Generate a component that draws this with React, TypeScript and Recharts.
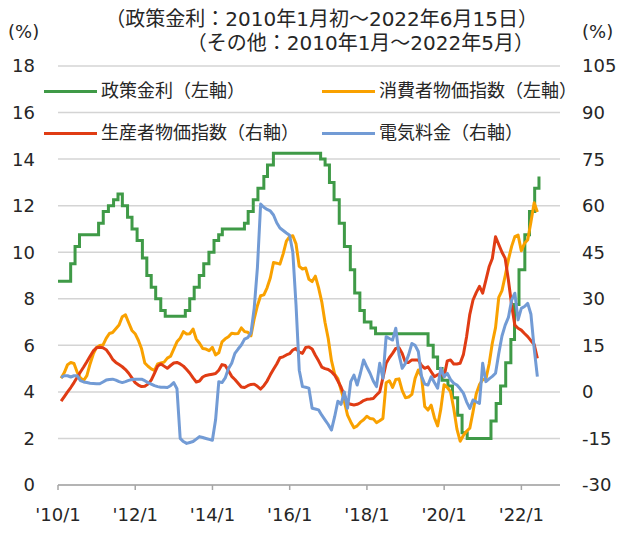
import React from "react";
import { LineChart, Line, XAxis, YAxis, CartesianGrid, Legend } from "recharts";

const LATIN_FONT = "'DejaVu Sans', Verdana, sans-serif";
const JP_FONT = "'DejaVu Sans', 'Noto Sans CJK JP', sans-serif";
const TEXT_COLOR = "#262626";

// x axis: months counted from 2010/1
const xTicks = [0, 24, 48, 72, 96, 120, 144];
const xTickLabels = ["'10/1", "'12/1", "'14/1", "'16/1", "'18/1", "'20/1", "'22/1"];
const leftTicks = [0, 2, 4, 6, 8, 10, 12, 14, 16, 18];
const rightTicks = [-30, -15, 0, 15, 30, 45, 60, 75, 90, 105];

const seriesNames = {
  policy: "政策金利（左軸）",
  cpi: "消費者物価指数（左軸）",
  ppi: "生産者物価指数（右軸）",
  elec: "電気料金（右軸）",
};

// policy rate: date the new rate took effect, rate (%)
const policyDates = [
  "2010/1/1", "2010/4/29", "2010/6/10", "2010/7/22",
  "2011/1/20", "2011/3/3", "2011/4/21", "2011/6/9", "2011/7/21", "2011/9/1", "2011/10/20", "2011/12/1",
  "2012/1/19", "2012/3/8", "2012/4/19", "2012/5/31", "2012/7/12", "2012/8/30", "2012/10/11",
  "2013/4/18", "2013/5/30", "2013/7/11", "2013/8/29", "2013/10/10", "2013/11/28",
  "2014/1/16", "2014/2/27", "2014/4/3", "2014/10/30", "2014/12/4",
  "2015/1/22", "2015/3/5", "2015/4/30", "2015/6/4", "2015/7/30",
  "2016/10/20", "2016/12/1",
  "2017/1/12", "2017/2/23", "2017/4/13", "2017/6/1", "2017/7/27", "2017/9/7", "2017/10/26", "2017/12/7",
  "2018/2/8", "2018/3/22",
  "2019/8/1", "2019/9/19", "2019/10/31", "2019/12/12",
  "2020/2/6", "2020/3/19", "2020/5/7", "2020/6/18", "2020/8/6",
  "2021/3/18", "2021/5/6", "2021/6/17", "2021/8/5", "2021/9/23", "2021/10/28", "2021/12/9",
  "2022/2/3", "2022/3/17", "2022/5/5", "2022/6/15",
];
const policyRates = [
  8.75, 9.5, 10.25, 10.75,
  11.25, 11.75, 12.0, 12.25, 12.5, 12.0, 11.5, 11.0,
  10.5, 9.75, 9.0, 8.5, 8.0, 7.5, 7.25,
  7.5, 8.0, 8.5, 9.0, 9.5, 10.0,
  10.5, 10.75, 11.0, 11.25, 11.75,
  12.25, 12.75, 13.25, 13.75, 14.25,
  14.0, 13.75,
  13.0, 12.25, 11.25, 10.25, 9.25, 8.25, 7.5, 7.0,
  6.75, 6.5,
  6.0, 5.5, 5.0, 4.5,
  4.25, 3.75, 3.0, 2.25, 2.0,
  2.75, 3.5, 4.25, 5.25, 6.25, 7.75, 9.25,
  10.75, 11.75, 12.75, 13.25,
];

// monthly series, 2010/1 - 2022/5 (y/y %)
const cpi = [
  4.59, 4.83, 5.17, 5.26, 5.22, 4.84, 4.6, 4.49, 4.7, 5.2, 5.63, 5.91,
  5.99, 6.01, 6.3, 6.51, 6.55, 6.71, 6.87, 7.23, 7.31, 6.97, 6.64, 6.5,
  6.22, 5.85, 5.24, 5.1, 4.99, 4.92, 5.2, 5.24, 5.28, 5.45, 5.53, 5.84,
  6.15, 6.31, 6.59, 6.49, 6.5, 6.7, 6.27, 6.09, 5.86, 5.84, 5.77, 5.91,
  5.59, 5.68, 6.15, 6.28, 6.37, 6.52, 6.5, 6.51, 6.75, 6.59, 6.56, 6.41,
  7.14, 7.7, 8.13, 8.17, 8.47, 8.89, 9.56, 9.53, 9.49, 9.93, 10.48, 10.67,
  10.71, 10.36, 9.39, 9.28, 9.32, 8.84, 8.74, 8.97, 8.48, 7.87, 6.99, 6.29,
  5.35, 4.76, 4.57, 4.08, 3.6, 3.0, 2.71, 2.46, 2.54, 2.7, 2.8, 2.95,
  2.86, 2.84, 2.68, 2.76, 2.86, 4.39, 4.48, 4.19, 4.53, 4.56, 4.05, 3.75,
  3.78, 3.89, 4.58, 4.94, 4.66, 3.37, 3.22, 3.43, 2.89, 2.54, 3.27, 4.31,
  4.19, 4.01, 3.3, 2.4, 1.88, 2.13, 2.31, 2.44, 3.14, 3.92, 4.31, 4.52,
  4.56, 5.2, 6.1, 6.76, 8.06, 8.35, 8.99, 9.68, 10.25, 10.67, 10.74, 10.06,
  10.38, 10.54, 11.3, 12.13, 11.73,
];
const ppi = [
  -3, -1.5, 0, 1.4, 3, 4.7, 6.4, 8, 9.7, 11.5, 13.2, 14.2,
  14.4, 14.2, 13.6, 12.2, 10.5, 9.5, 8.8, 8.1, 7.2, 6, 4.5, 3,
  2.2, 1.7, 1.8, 2.5, 3.8, 6, 8.3, 9, 8.3, 7.6, 8.5, 9.3,
  9.5, 9, 8.3, 7.2, 6, 4.5, 3.2, 3.5, 4.8, 5.3, 5.5, 5.7,
  5.9, 7, 8.8, 8.5, 6.8, 5, 4, 2.8, 1.6, 1.4, 2, 2.4,
  2.5, 1.8, 0.9, 2, 3.5, 5.5, 7.3, 9, 11, 11.3, 11.9, 12.3,
  13.5, 14, 12.8, 12.4, 14.3, 14.5, 13.8, 11.8, 10, 8, 7.5, 7.2,
  6.5, 5.4, 3.5, 1.5, -1, -3.5, -4, -4.2, -4, -3.5, -2.8, -2.4,
  -2.3, -2.1, -1, 0, 4.5, 9.2, 11, 12.4, 14, 14.2, 12.4, 9.5,
  9.5, 10.3, 10.3, 10.3, 8.5, 7.6, 8.1, 6.5, 4.9, 5.5, 6, 4.9,
  10, 10.3, 9, 9, 9.2, 12, 17.8, 25, 29.6, 32, 34, 31.8,
  36, 40.3, 43, 50, 47.5, 45, 43, 36, 28, 21.5, 20.5, 19.9,
  18.8, 17.8, 16.5, 15.3, 10.8,
];
const electricity = [
  4.7, 5.2, 5.2, 4.8, 5.2, 5.2, 3.6, 3.2, 3, 2.8, 2.7, 2.6,
  2.6, 3.2, 3.8, 4, 4.1, 3.8, 3.3, 3, 3.3, 3.7, 4, 4.1,
  4.1, 4.1, 3.6, 3, 2.5, 2, 1.7, 1.5, 1.5, 1.4, 2, 3,
  1, -15, -16, -16.6, -16.3, -16, -15.2, -14.4, -14.7, -15, -15.3, -15.6,
  -9, 3.3, 3, 4.5, 7.5, 9.2, 12.4, 13.8, 15.1, 17, 17.5, 19,
  27, 40, 60.5, 59.5, 58.8, 58.3, 57, 54.5, 52.8, 52, 51.2, 50.5,
  45, 28, 7, 1.7, 1.5, 1.2, -5.3, -5.5, -5.8, -7.5, -9, -10.5,
  -12.3, -8, -3, -4, 0, -5.3, 3.3, 5.4, 2.2, 6, 10.3, 8,
  6, 3.5, 1.7, 9.2, 4.4, 17.8, 17.2, 16.7, 20.5, 12, 7.6, 9.2,
  12, 15.6, 15, 13, 5, 2.5, 2.2, 4.9, 3, 1.2, 7.6, 4.9,
  6, 4, 2.8, 2.2, 1, -0.4, -3.2, -5.3, -2.6, -3.2, -3.7, 9.2,
  3.3, 4.2, 5, 6, 12.4, 18, 21.5, 24, 29.6, 31.8, 23.2, 26.9,
  27.5, 28.5, 25, 14, 4.9,
];

// date string -> fractional month since 2010/1/1
const toMonthPos = (s: string) => {
  const [y, mo, d] = s.split("/").map(Number);
  const days = new Date(y, mo, 0).getDate();
  return (y - 2010) * 12 + (mo - 1) + (d - 1) / days;
};

const policyData = policyDates.map((d, i) => ({ t: toMonthPos(d), v: policyRates[i] }));
// monthly values sit at the end of their month
const monthly = cpi.map((v, i) => ({ t: i + 0.97, cpi: v, ppi: ppi[i], elec: electricity[i] }));

const renderLegend = (props: any) => {
  const items = props.payload || [];
  return (
    <div
      style={{
        display: "grid",
        gridTemplateColumns: "278px 260px",
        rowGap: 18,
        fontFamily: JP_FONT,
        fontSize: 18,
        color: TEXT_COLOR,
      }}
    >
      {items.map((e: any) => (
        <div key={e.value} style={{ display: "flex", alignItems: "center", height: 24, lineHeight: "24px" }}>
          <span style={{ display: "inline-block", width: 53, height: 3, background: e.color, marginRight: 4 }} />
          <span>{e.value}</span>
        </div>
      ))}
    </div>
  );
};

export default function App() {
  const tickStyle = { fontSize: 18, fill: TEXT_COLOR, fontFamily: LATIN_FONT };
  return (
    <div style={{ position: "absolute", left: 0, top: 0, width: 620, height: 535, background: "#fff" }}>
      <div
        style={{
          position: "absolute",
          left: 0,
          top: 7,
          width: 538,
          textAlign: "right",
          fontFamily: JP_FONT,
          fontSize: 20,
          lineHeight: "25px",
          color: TEXT_COLOR,
          zIndex: 2,
        }}
      >
        <div>（政策金利：2010年1月初～2022年6月15日）</div>
        <div style={{ marginTop: -1, paddingRight: 4 }}>（その他：2010年1月～2022年5月）</div>
      </div>
      <div style={{ position: "absolute", left: 8, top: 21, fontFamily: LATIN_FONT, fontSize: 18, color: TEXT_COLOR, zIndex: 2 }}>
        (%)
      </div>
      <div style={{ position: "absolute", left: 582, top: 21, fontFamily: LATIN_FONT, fontSize: 18, color: TEXT_COLOR, zIndex: 2 }}>
        (%)
      </div>
      <LineChart width={620} height={535} margin={{ top: 66, right: 10, bottom: 10, left: 8 }}>
        <CartesianGrid yAxisId="left" vertical={false} stroke="#d4d4d4" strokeWidth={1.5} />
        <XAxis
          dataKey="t"
          type="number"
          domain={[0, 156]}
          ticks={xTicks}
          tickFormatter={(v: number) => xTickLabels[xTicks.indexOf(v)]}
          height={40}
          tick={tickStyle}
          tickSize={5}
          tickMargin={18}
          axisLine={{ stroke: "#a6a6a6", strokeWidth: 1.5 }}
          tickLine={{ stroke: "#a6a6a6", strokeWidth: 1.5 }}
          allowDataOverflow
        />
        <YAxis
          yAxisId="left"
          domain={[0, 18]}
          ticks={leftTicks}
          width={50}
          tick={tickStyle}
          tickSize={0}
          tickMargin={23}
          axisLine={false}
          tickLine={false}
        />
        <YAxis
          yAxisId="right"
          orientation="right"
          domain={[-30, 105]}
          ticks={rightTicks}
          width={50}
          tick={{ ...tickStyle, textAnchor: "start" }}
          tickSize={0}
          tickMargin={22}
          axisLine={false}
          tickLine={false}
        />
        <Legend
          layout="horizontal"
          verticalAlign="middle"
          align="center"
          content={renderLegend}
          wrapperStyle={{ top: 79, left: 44, width: 560, height: 66 }}
        />
        <Line
          yAxisId="left"
          data={policyData}
          dataKey="v"
          name={seriesNames.policy}
          type="stepAfter"
          stroke="#3f9a47"
          strokeWidth={3}
          dot={false}
          isAnimationActive={false}
        />
        <Line
          yAxisId="left"
          data={monthly}
          dataKey="cpi"
          name={seriesNames.cpi}
          type="linear"
          stroke="#f9a100"
          strokeWidth={3}
          strokeLinejoin="round"
          dot={false}
          isAnimationActive={false}
        />
        <Line
          yAxisId="right"
          data={monthly}
          dataKey="ppi"
          name={seriesNames.ppi}
          type="linear"
          stroke="#e03c14"
          strokeWidth={3}
          strokeLinejoin="round"
          dot={false}
          isAnimationActive={false}
        />
        <Line
          yAxisId="right"
          data={monthly}
          dataKey="elec"
          name={seriesNames.elec}
          type="linear"
          stroke="#729bd5"
          strokeWidth={3}
          strokeLinejoin="round"
          dot={false}
          isAnimationActive={false}
        />
      </LineChart>
    </div>
  );
}
